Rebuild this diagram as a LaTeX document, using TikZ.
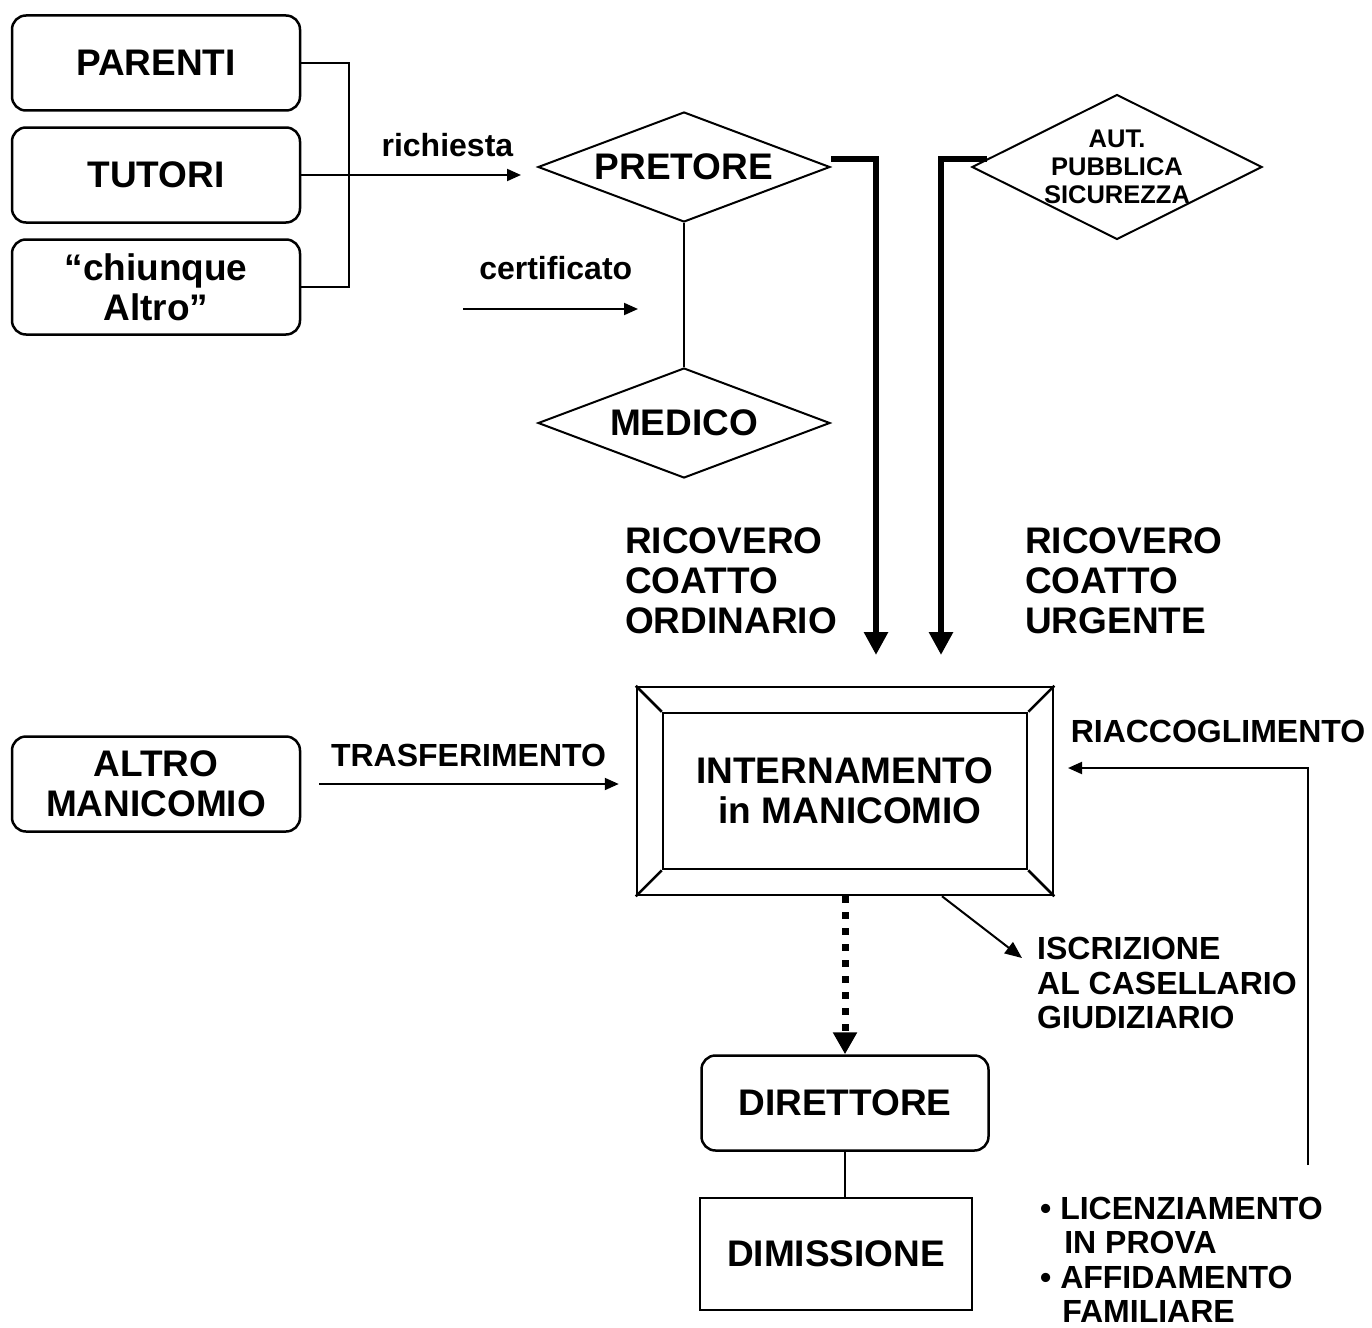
\documentclass[tikz,border=0pt]{standalone}
\usepackage{fontspec}
\setmainfont{Liberation Sans}
\usetikzlibrary{shapes.geometric,arrows.meta,positioning}

\newcommand{\fbig}{\fontsize{37}{40}\selectfont\bfseries}
\newcommand{\fmid}{\fontsize{32}{34.5}\selectfont\bfseries}
\newcommand{\fsmall}{\fontsize{25.5}{28}\selectfont\bfseries}

\tikzstyle{rbox} = [rectangle, rounded corners=14pt, draw=black, line width=2.5pt, minimum width=288pt, minimum height=95pt, align=center, font=\fbig, inner sep=0pt]
\tikzstyle{sbox} = [rectangle, draw=black, line width=2.5pt, align=center, font=\fbig, inner sep=0pt]
\tikzstyle{dmd} = [diamond, draw=black, line width=2pt, minimum width=292pt, minimum height=110pt, aspect=2.65, inner sep=0pt, font=\fbig]
\tikzstyle{lab} = [font=\fmid, align=left, inner sep=0pt]

\begin{document}
\begin{tikzpicture}[x=1pt,y=1pt,>={Triangle[length=14pt,width=12pt]},node distance=112pt]
\tikzstyle{conn}=[->,line width=2pt]
\tikzstyle{fat}=[line width=6pt,-{Triangle[length=23pt,width=23pt]}]

\useasboundingbox (0,0) rectangle (1372,-1327);

\node[rbox] (BoxParenti) at (156,-63) {PARENTI};
\node[rbox] (BoxTutori) [below of=BoxParenti] {TUTORI};
\node[rbox] (BoxChiunque) [below of=BoxTutori] {“chiunque\\Altro”};
\node[rbox] (BoxAltro) at (156,-784) {ALTRO\\MANICOMIO};

\node[dmd] (DiamondPretore) at (684,-167) {PRETORE};
\node[dmd] (DiamondMedico) at (684,-423) {MEDICO};
\node[dmd, minimum width=290pt, minimum height=145pt, aspect=2] (DiamondAut) at (1117,-167) {};
\node[font=\fsmall, align=center, inner sep=0pt] (TextAut) at (DiamondAut) {AUT.\\PUBBLICA\\SICUREZZA};

\node[lab, font=\fbig, anchor=west] (LabOrdinario) at (625,-581) {RICOVERO\\COATTO\\ORDINARIO};
\node[lab, font=\fbig, anchor=west] (LabUrgente) at (1025,-581) {RICOVERO\\COATTO\\URGENTE};

\node[draw, line width=2.5pt, minimum width=416pt, minimum height=208pt] (FrameInternamento) at (845,-791) {};
\node[sbox, minimum width=364pt, minimum height=156pt] (BoxInternamento) at (845,-791) {INTERNAMENTO\\\ in MANICOMIO};

\node[rbox, minimum width=287pt] (BoxDirettore) at (845,-1103) {DIRETTORE};
\node[sbox, minimum width=272pt, minimum height=112pt] (BoxDimissione) at (836,-1254) {DIMISSIONE};

\node[lab, anchor=west] (LabIscrizione) at (1037,-983) {ISCRIZIONE\\AL CASELLARIO\\GIUDIZIARIO};
\node[lab] (LabRiacc) at (1218,-731) {RIACCOGLIMENTO};
\node[lab, anchor=west] (LabUscita) at (1040,-1260) {• LICENZIAMENTO\\\phantom{• }\hspace{4pt}IN PROVA\\• AFFIDAMENTO\\\phantom{• }\hspace{2pt}FAMILIARE};

\coordinate (CertStart) at (463,-309);
\coordinate (CertEnd) at (638,-309);
\coordinate (EndOrdinario) at (876,-655);
\coordinate (EndUrgente) at (941,-655);
\coordinate (EndIscrizione) at (1022,-958);
\coordinate (StartRiacc) at (1308,-1165);
\coordinate (EndRiacc) at (1068,-768);

\draw[line width=2pt] (BoxParenti.east) -- ++(48,0) |- (BoxChiunque.east);
\draw[conn, shorten >=16pt] (BoxTutori.east) -- node[lab, pos=0.62, above=17pt] {richiesta} (BoxTutori.east -| DiamondPretore.west);
\draw[conn] (CertStart) -- node[lab, pos=0.53, above=28pt] {certificato} (CertEnd);
\draw[line width=2pt] (DiamondPretore.south) -- (DiamondMedico.north);

\draw[fat] ([yshift=8pt]DiamondPretore.east) -| (EndOrdinario);
\draw[fat] ([xshift=16pt,yshift=8pt]DiamondAut.west) -| (EndUrgente);

\draw[line width=2.5pt] (FrameInternamento.north west) -- (BoxInternamento.north west);
\draw[line width=2.5pt] (FrameInternamento.north east) -- (BoxInternamento.north east);
\draw[line width=2.5pt] (FrameInternamento.south west) -- (BoxInternamento.south west);
\draw[line width=2.5pt] (FrameInternamento.south east) -- (BoxInternamento.south east);

\draw[conn, shorten <=18pt, shorten >=17pt] (BoxAltro.east) -- node[lab, midway, above=16pt] {TRASFERIMENTO} (BoxAltro.east -| FrameInternamento.west);
\draw[line width=7pt, dash pattern=on 7pt off 9pt, -{Triangle[length=22pt,width=23pt]}] (FrameInternamento.south) -- (BoxDirettore.north);
\draw[conn, -{Triangle[length=17pt,width=14pt]}] ([xshift=97pt]FrameInternamento.south) -- (EndIscrizione);
\draw[conn] (StartRiacc) |- (EndRiacc);
\draw[line width=2pt] (BoxDirettore.south) -- (BoxDirettore.south |- BoxDimissione.north);

\end{tikzpicture}
\end{document}
